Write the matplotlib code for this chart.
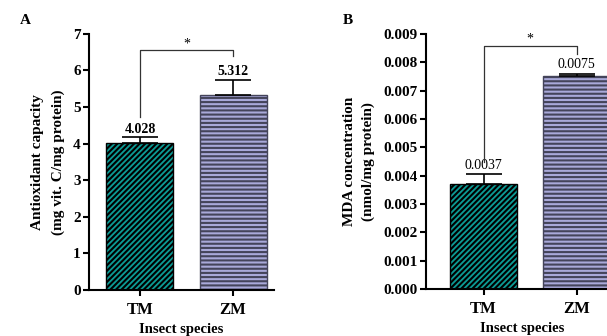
import matplotlib.pyplot as plt

plt.rcParams['font.family'] = ['Liberation Serif', 'DejaVu Serif']
plt.rcParams['font.weight'] = 'bold'
plt.rcParams['hatch.linewidth'] = 1.5

species = ['TM', 'ZM']

# antioxidant capacity (mg vit. C/mg protein)
antiox_mean = [4.028, 5.312]
antiox_err = [0.14, 0.42]
antiox_labels = ['4.028', '5.312']

# MDA concentration (nmol/mg protein)
mda_mean = [0.0037, 0.00753]
mda_err = [0.00034, 0.00007]
mda_labels = ['0.0037', '0.0075']

fills = ['#0c9b95', '#a9a9d9']
edges = ['black', '#44445a']
hatches = ['//////', '----']


def draw_panel(ax, means, errs, labels, ymax, ystep, fmt, bracket, label_pad, bold_values):
    x = range(len(means))
    for i in x:
        ax.bar(i, means[i], width=0.72, color=fills[i], edgecolor=edges[i],
               hatch=hatches[i], linewidth=1.0, zorder=2)
        ax.errorbar(i, means[i], yerr=[[0], [errs[i]]], fmt='none',
                    ecolor='black', elinewidth=1.2, capsize=13, capthick=1.2, zorder=3)
        ax.text(i, means[i] + errs[i] + label_pad, labels[i], ha='center', va='bottom',
                fontsize=10, fontweight='bold' if bold_values else 'normal')
    # significance bracket
    top, left_end, right_end = bracket
    ax.plot([0, 0, 1, 1], [left_end, top, top, right_end], color='#333333', lw=0.9,
            zorder=3, clip_on=False)
    ax.text(0.5, top, '*', ha='center', va='bottom', fontsize=10, fontweight='normal')

    ax.set_ylim(0, ymax)
    ticks = [round(k * ystep, 4) for k in range(int(round(ymax / ystep)) + 1)]
    ax.set_yticks(ticks)
    ax.set_yticklabels([fmt.format(t) for t in ticks])
    ax.set_xticks(list(x))
    ax.set_xticklabels(species)
    ax.spines['top'].set_visible(False)
    ax.spines['right'].set_visible(False)
    ax.spines['left'].set_linewidth(1.5)
    ax.spines['bottom'].set_linewidth(1.5)
    ax.tick_params(axis='both', width=1.5, length=4, labelsize=11, pad=2)
    ax.tick_params(axis='x', pad=5, labelsize=12)
    ax.set_xlabel('Insect species', fontsize=10.5, fontweight='bold', labelpad=3)


fig = plt.figure(figsize=(6.07, 3.36), dpi=100)

ax_a = fig.add_axes([0.1466, 0.137, 0.3048, 0.7627])
draw_panel(ax_a, antiox_mean, antiox_err, antiox_labels, 7, 1, '{:.0f}',
           (6.55, 4.73, 6.38), 0.05, True)
ax_a.set_xlim(-0.548, 1.44)
ax_a.set_ylabel('Antioxidant capacity\n(mg vit. C/mg protein)', fontsize=11,
                fontweight='bold', labelpad=6, linespacing=1.65)

ax_b = fig.add_axes([0.7018, 0.140, 0.3155, 0.759])
draw_panel(ax_b, mda_mean, mda_err, mda_labels, 0.009, 0.001, '{:.3f}',
           (0.00859, 0.00449, 0.00829), 0.00009, False)
ax_b.set_xlim(-0.618, 1.44)
ax_b.set_ylabel('MDA concentration\n(nmol/mg protein)', fontsize=11,
                fontweight='bold', labelpad=6, linespacing=1.5)

fig.text(0.033, 0.93, 'A', fontsize=11, fontweight='bold')
fig.text(0.565, 0.93, 'B', fontsize=11, fontweight='bold')

fig.savefig('out.png', dpi=100)
